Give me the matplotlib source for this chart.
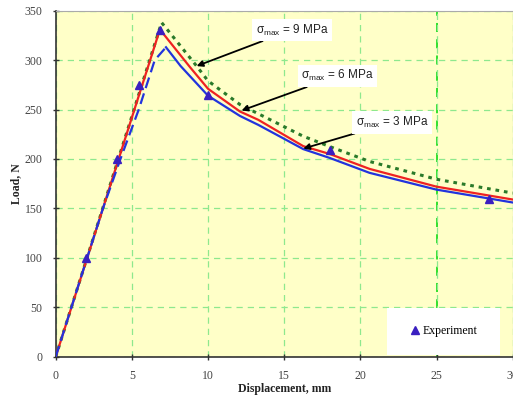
import numpy as np
import matplotlib
matplotlib.use("Agg")
import matplotlib.pyplot as plt
from matplotlib.patches import Rectangle

# sigma_max = 3 MPa (blue, dashed on the rise)
s3_x_up = [0, 2.0, 3.1, 4.25, 5.45, 6.5, 7.24]
s3_y_up = [0, 97, 150, 200, 250, 300, 313]
s3_x_dn = [7.24, 8.2, 10, 12.1, 13.3, 16.25, 18, 20.6, 25, 30]
s3_y_dn = [313, 294, 264, 243.5, 234.5, 210, 201, 186, 169, 156]

# sigma_max = 6 MPa (red)
s6_x = [0, 6.84, 7.72, 8.81, 10, 12.1, 13.3, 16.25, 18, 20.6, 25, 30]
s6_y = [0, 331, 314, 293, 271, 248, 239.6, 213, 205, 190, 172, 159]

# sigma_max = 9 MPa (green, dotted)
s9_x = [0, 6.95, 8.0, 9.25, 10, 12.1, 16.25, 18, 20.6, 25, 30]
s9_y = [0, 338, 318, 294, 279, 255, 223, 212.5, 197.5, 179.5, 165.5]

# experiment
exp_x = [2.0, 4.0, 5.5, 6.85, 10.0, 18.0, 28.45]
exp_y = [100, 200, 275, 330, 265, 209, 160]

labels = ["σ$_{\\mathrm{max}}$ = 9 MPa", "σ$_{\\mathrm{max}}$ = 6 MPa", "σ$_{\\mathrm{max}}$ = 3 MPa"]
label_xy = [(15.5, 330.5), (18.5, 284), (22.1, 237)]
arrow_tip = [(9.25, 294), (12.2, 249), (16.25, 210.5)]

x_ticks = [0, 5, 10, 15, 20, 25, 30]
y_ticks = [0, 50, 100, 150, 200, 250, 300, 350]

plt.rcParams["mathtext.fontset"] = "custom"
plt.rcParams["mathtext.rm"] = "Liberation Sans"
plt.rcParams["mathtext.it"] = "Liberation Sans:italic"

fig = plt.figure(figsize=(5.13, 3.96), dpi=100)
ax = fig.add_axes([0.1086, 0.0992, 0.8908, 0.8738])
ax.set_facecolor("#ffffc8")

ax.grid(True, color="#8ee88e", linestyle=(0, (5, 4)), linewidth=0.9)
ax.axvline(25, color="#22dd22", linestyle=(0, (5, 4)), linewidth=1.3, zorder=1)

ax.plot(s6_x, s6_y, color="#ee2222", lw=1.6, zorder=3)
ax.plot(s3_x_up, s3_y_up, color="#2233dd", lw=1.6, dashes=(5, 2.5), zorder=4)
ax.plot(s3_x_dn, s3_y_dn, color="#2233dd", lw=1.6, zorder=3)
ax.plot(s9_x, s9_y, color="#2a7a2a", lw=2.2, linestyle=(0, (1.2, 1.6)), zorder=2)
ax.plot(exp_x, exp_y, linestyle="none", marker="^", ms=6, color="#3a1fc0",
        zorder=5, label="Experiment")

for txt, xy, tip in zip(labels, label_xy, arrow_tip):
    ax.annotate(txt, xy=tip, xytext=xy, ha="center", va="center",
                fontsize=8.5, family="Liberation Sans", color="#222222",
                bbox=dict(boxstyle="square,pad=0.3", fc="white", ec="none"),
                arrowprops=dict(arrowstyle="-|>", color="black", lw=1.3,
                                mutation_scale=9, shrinkA=0, shrinkB=0),
                zorder=6)

ax.add_patch(Rectangle((0.724, 0.006), 0.248, 0.136, transform=ax.transAxes,
                       fc="white", ec="none", zorder=6))
leg = ax.legend(loc="center", bbox_to_anchor=(0.848, 0.074), frameon=False,
                prop={"family": "Liberation Serif", "size": 8.5},
                handletextpad=0.1, handlelength=1.0, markerscale=0.9)
leg.set_zorder(7)

ax.set_xlim(0, 30)
ax.set_ylim(0, 350)
ax.set_xticks(x_ticks)
ax.set_yticks(y_ticks)
ax.tick_params(direction="inout", length=5, width=1, colors="#333333",
               labelsize=8.5, labelcolor="#444444", pad=7)
for lab in ax.get_xticklabels() + ax.get_yticklabels():
    lab.set_family("Liberation Serif")

ax.spines["left"].set_color("#333333")
ax.spines["bottom"].set_color("#333333")
ax.spines["left"].set_linewidth(1.2)
ax.spines["bottom"].set_linewidth(1.2)
ax.spines["top"].set_color("#aaaaaa")
ax.spines["right"].set_color("#aaaaaa")

ax.set_xlabel("Displacement, mm", family="Liberation Serif", fontweight="bold",
              fontsize=8.5, color="#222222", labelpad=1)
ax.set_ylabel("Load, N", family="Liberation Serif", fontweight="bold",
              fontsize=8.5, color="#222222", labelpad=2)

fig.savefig("out.png", dpi=100)
